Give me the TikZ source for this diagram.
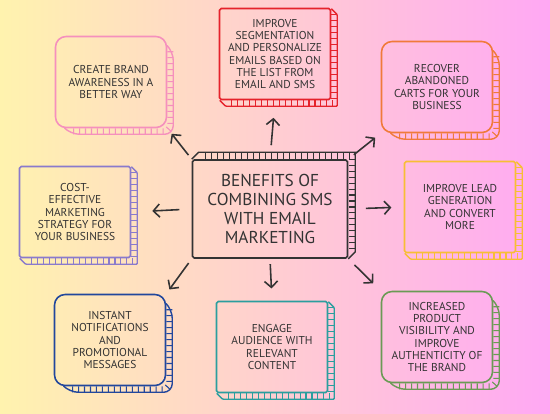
\documentclass[tikz,border=0pt]{standalone}
\usepackage{fontspec}
\setmainfont{PT Sans}
\usetikzlibrary{arrows.meta,calc,decorations.pathreplacing}
\definecolor{bgyellow}{HTML}{FFF3AE}
\definecolor{bgpink}{HTML}{FFA8F4}
\definecolor{ink}{HTML}{333333}
\definecolor{brandpink}{HTML}{F590BD}
\definecolor{segred}{HTML}{E5222B}
\definecolor{cartorange}{HTML}{F07A3A}
\definecolor{costpurple}{HTML}{8A7ACC}
\definecolor{leadyellow}{HTML}{F7BE35}
\definecolor{notifyblue}{HTML}{22479C}
\definecolor{engageteal}{HTML}{2B9E9E}
\definecolor{visigreen}{HTML}{6B9A55}

\begin{document}
\begin{tikzpicture}[x=0.02cm, y=-0.02cm,
    benefit/.style={draw=#1, line width=0.9pt, text=ink, minimum width=2.22cm, minimum height=1.82cm, inner sep=2pt, align=center, font=\fontsize{6.5}{7}\selectfont},
    roundbox/.style={rounded corners=6pt},
    squarebox/.style={rounded corners=1pt},
    hub/.style={draw=ink, line width=0.9pt, text=ink, minimum width=3.1cm, minimum height=1.96cm, rounded corners=1pt, align=center, font=\fontsize{9.8}{10.8}\selectfont},
    ladder/.style={line width=0.6pt, decorate, decoration={ticks, segment length=3.4pt, amplitude=1.7pt}},
    arrowstyle/.style={-{Straight Barb[length=3.5pt,width=7.5pt]}, draw=ink, line width=0.9pt}
  ]
  \useasboundingbox (0,0) rectangle (550,413);
  \shade[left color=bgyellow, right color=bgpink] (0,0) rectangle (550,413);

  \node[hub] (hub) at (270,209) {BENEFITS OF\\COMBINING SMS\\WITH EMAIL\\MARKETING};
  \node[benefit=brandpink, roundbox] (brand) at (111,82) {CREATE BRAND\\AWARENESS IN A\\BETTER WAY};
  \node[benefit=segred, squarebox] (segment) at (275,54) {IMPROVE\\SEGMENTATION\\AND PERSONALIZE\\EMAILS BASED ON\\THE LIST FROM\\EMAIL AND SMS};
  \node[benefit=cartorange, roundbox] (carts) at (437,87) {RECOVER\\ABANDONED\\CARTS FOR YOUR\\BUSINESS};
  \node[benefit=costpurple, squarebox] (cost) at (75,212) {COST-\\EFFECTIVE\\MARKETING\\STRATEGY FOR\\YOUR BUSINESS};
  \node[benefit=leadyellow, squarebox] (lead) at (460,207) {IMPROVE LEAD\\GENERATION\\AND CONVERT\\MORE};
  \node[benefit=notifyblue, roundbox] (notify) at (110,340) {INSTANT\\NOTIFICATIONS\\AND\\PROMOTIONAL\\MESSAGES};
  \node[benefit=engageteal, squarebox] (engage) at (272,347) {ENGAGE\\AUDIENCE WITH\\RELEVANT\\CONTENT};
  \node[benefit=visigreen, roundbox] (visible) at (437,337) {INCREASED\\PRODUCT\\VISIBILITY AND\\IMPROVE\\AUTHENTICITY OF\\THE BRAND};

  \foreach \n/\col/\r in {brand/brandpink/10, segment/segred/1, carts/cartorange/10, cost/costpurple/1, lead/leadyellow/1, notify/notifyblue/10, engage/engageteal/1, visible/visigreen/10}{
    \draw[\col, line width=0.8pt, rounded corners=\r*0.5pt] ($(\n.north east)+(0,\r)$) -- ++(6,6) -- ($(\n.south east)+(6,6)$) -- ($(\n.south west)+(6+\r,6)$) -- ($(\n.south west)+(\r,0)$);
    \draw[\col, ladder, rounded corners=\r*0.4pt] ($(\n.north east)+(3,\r+6)$) -- ($(\n.south east)+(3,3)$) -- ($(\n.south west)+(\r+6,3)$);
  }
  \draw[ink, line width=0.8pt] (hub.south east) -- ++(7,-7) -- ($(hub.north east)+(7,-7)$) -- ($(hub.north west)+(7,-7)$) -- (hub.north west);
  \draw[ink, ladder] ($(hub.south east)+(3.5,-10)$) -- ($(hub.north east)+(3.5,-3.5)$) -- ($(hub.north west)+(10,-3.5)$);

  \draw[arrowstyle, shorten <=3pt, shorten >=4pt] (hub.north west) -- (brand.south east);
  \draw[arrowstyle, shorten <=8pt, shorten >=10pt] (hub.north) -- (segment.south);
  \draw[arrowstyle, shorten <=4pt, shorten >=4pt] (hub.north east) -- (carts.south west);
  \draw[arrowstyle, shorten <=7pt, shorten >=12pt] (hub.west) -- (cost.east);
  \draw[arrowstyle, shorten <=10pt, shorten >=7pt] (hub.east) -- (lead.west);
  \draw[arrowstyle, shorten <=3pt, shorten >=3pt] (hub.south west) -- (notify.north east);
  \draw[arrowstyle, shorten <=3pt, shorten >=7pt] (hub.south) -- (engage.north);
  \draw[arrowstyle, shorten <=5pt, shorten >=6pt] (hub.south east) -- (visible.north west);
\end{tikzpicture}
\end{document}
